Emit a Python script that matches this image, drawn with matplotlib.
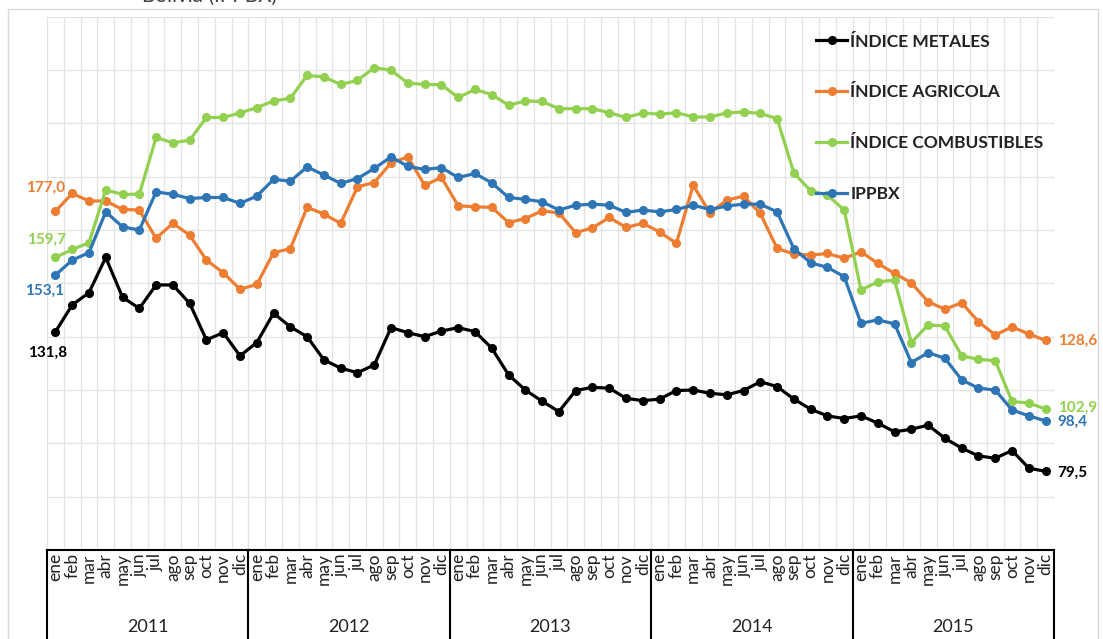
import numpy as np
import matplotlib
matplotlib.use("Agg")
import matplotlib.pyplot as plt
import matplotlib.transforms as mtransforms
from matplotlib.patches import Rectangle

plt.rcParams['font.family'] = ['Lato', 'DejaVu Sans']

# months of 2011-2015
months = ['ene', 'feb', 'mar', 'abr', 'may', 'jun', 'jul', 'ago', 'sep', 'oct', 'nov', 'dic']
years = ['2011', '2012', '2013', '2014', '2015']

metales = [131.8, 141.9, 146.5, 159.7, 144.8, 140.6, 149.4, 149.4, 142.5, 128.8, 131.5, 122.8,
           127.8, 138.8, 133.7, 130.0, 121.3, 118.2, 116.5, 119.4, 133.4, 131.5, 130.0, 132.1,
           133.4, 131.9, 125.7, 115.7, 110.0, 105.8, 101.9, 109.8, 111.0, 110.7, 106.9, 106.0,
           106.6, 109.8, 110.0, 108.8, 108.2, 109.8, 113.1, 111.3, 106.6, 102.8, 100.3, 99.3,
           100.3, 97.6, 94.3, 95.3, 96.8, 91.9, 88.2, 85.3, 84.4, 87.3, 80.7, 79.5]

agricola = [177.0, 183.7, 180.9, 180.9, 177.7, 177.5, 166.9, 172.5, 168.1, 158.7, 154.0, 147.8,
            149.6, 161.5, 163.0, 178.5, 176.0, 172.5, 186.2, 187.8, 195.2, 197.4, 186.8, 189.7,
            179.1, 178.7, 178.5, 172.8, 174.3, 177.2, 176.4, 169.0, 170.8, 174.7, 171.0, 172.5,
            169.3, 165.0, 186.8, 176.4, 181.2, 182.7, 176.2, 163.1, 161.0, 160.6, 161.2, 159.4,
            161.8, 157.5, 153.7, 150.2, 143.1, 140.3, 142.7, 135.6, 130.6, 133.7, 131.0, 128.6]

combustibles = [159.7, 162.7, 165.2, 185.0, 183.4, 183.4, 204.7, 202.7, 203.7, 212.2, 212.2, 213.9,
                215.9, 218.4, 219.4, 228.0, 227.4, 224.6, 226.1, 230.9, 229.9, 225.1, 224.6, 224.5,
                219.7, 222.7, 220.8, 216.8, 218.4, 218.2, 215.5, 215.5, 215.5, 214.0, 212.2, 213.9,
                213.4, 214.0, 212.4, 212.4, 213.9, 214.3, 213.7, 211.8, 191.4, 184.7, 183.1, 177.5,
                147.5, 150.6, 151.2, 127.8, 134.4, 134.0, 122.8, 121.5, 121.0, 105.7, 105.1, 102.9]

ippbx = [153.1, 158.7, 161.5, 176.8, 171.2, 170.0, 184.3, 183.4, 181.8, 182.2, 182.2, 180.0,
         182.7, 189.0, 188.3, 193.7, 190.6, 187.5, 189.3, 193.1, 197.4, 193.9, 192.7, 193.4,
         189.7, 191.2, 187.7, 182.2, 181.5, 180.6, 177.5, 179.3, 179.7, 179.3, 176.6, 177.5,
         176.8, 177.7, 179.3, 177.7, 179.0, 179.7, 179.7, 176.8, 163.0, 157.7, 156.0, 152.5,
         135.0, 136.3, 134.8, 120.3, 124.0, 121.9, 113.8, 110.7, 110.0, 102.5, 100.3, 98.4]

series = [
    ('ÍNDICE METALES', metales, '#000000'),
    ('ÍNDICE AGRICOLA', agricola, '#ED7D31'),
    ('ÍNDICE COMBUSTIBLES', combustibles, '#92D050'),
    ('IPPBX', ippbx, '#2E75B6'),
]

# label offsets (pixels) for first / last values
first_off = {'ÍNDICE METALES': (-8, -21), 'ÍNDICE AGRICOLA': (-10, 24),
             'ÍNDICE COMBUSTIBLES': (-9, 18), 'IPPBX': (-11, -16)}
last_off = {'ÍNDICE METALES': (12, -1), 'ÍNDICE AGRICOLA': (12, 0),
            'ÍNDICE COMBUSTIBLES': (12, 1), 'IPPBX': (12, -1)}

n = len(years) * len(months)
x = np.arange(n)

fig = plt.figure(figsize=(11.03, 6.39), dpi=100)
ax = fig.add_axes([47 / 1103, 1 - 550 / 639, (1054 - 47) / 1103, (550 - 16.7) / 639])

# outer chart border
fig.patches.append(Rectangle((8 / 1103, -0.1), 1090 / 1103, 1.1 - 9 / 639, transform=fig.transFigure,
                             fill=False, edgecolor='#d9d9d9', linewidth=1))
fig.text(210 / 1103, 1 + 4 / 639, 'Bolivia (IPPBX)', ha='center', va='center', fontsize=15, color='#404040')

for name, vals, col in series:
    ax.plot(x, vals, '-o', color=col, lw=2.3, markersize=5.5, label=name, zorder=3)
    ax.annotate(f"{vals[0]:.1f}".replace('.', ','), xy=(0, vals[0]), xytext=first_off[name],
                textcoords='offset pixels', ha='center', va='center', color=col,
                fontsize=11, fontweight='bold', annotation_clip=False)
    ax.annotate(f"{vals[-1]:.1f}".replace('.', ','), xy=(n - 1, vals[-1]), xytext=last_off[name],
                textcoords='offset pixels', ha='left', va='center', color=col,
                fontsize=11, fontweight='bold', annotation_clip=False)

ax.set_xlim(-0.5, n - 0.5)
ax.set_ylim(50, 250)
ax.set_yticks(np.arange(50, 251, 20))
ax.set_xticks(np.arange(-0.5, n, 1))
ax.tick_params(left=False, bottom=False, labelleft=False, labelbottom=False)
ax.grid(True, color='#e3e3e3', lw=0.9, zorder=0)
for s in ax.spines.values():
    s.set_visible(False)

# category axis with years
trans = mtransforms.blended_transform_factory(ax.transData, ax.transAxes)
ax.plot([-0.5, n - 0.5], [0, 0], color='black', lw=1.5, transform=trans, clip_on=False)
for k in range(len(years) + 1):
    xb = k * 12 - 0.5
    ax.plot([xb, xb], [0, -0.2], color='black', lw=1.5, transform=trans, clip_on=False)
for i in range(n):
    ax.text(i, -0.006, months[i % 12], rotation=90, ha='center', va='top', fontsize=12.5,
            color='#222222', transform=trans)
for k, yr in enumerate(years):
    ax.text(k * 12 + 5.5, -0.144, yr, ha='center', va='center', fontsize=13,
            color='#222222', transform=trans)

leg = ax.legend(loc='upper right', bbox_to_anchor=(1.0, 0.988), frameon=False,
                labelspacing=2.0, handlelength=1.75, handletextpad=0.2, borderaxespad=0.2,
                prop={'weight': 'bold', 'size': 12.5})
for t in leg.get_texts():
    t.set_color('#222222')

fig.savefig('out.png', dpi=100)
